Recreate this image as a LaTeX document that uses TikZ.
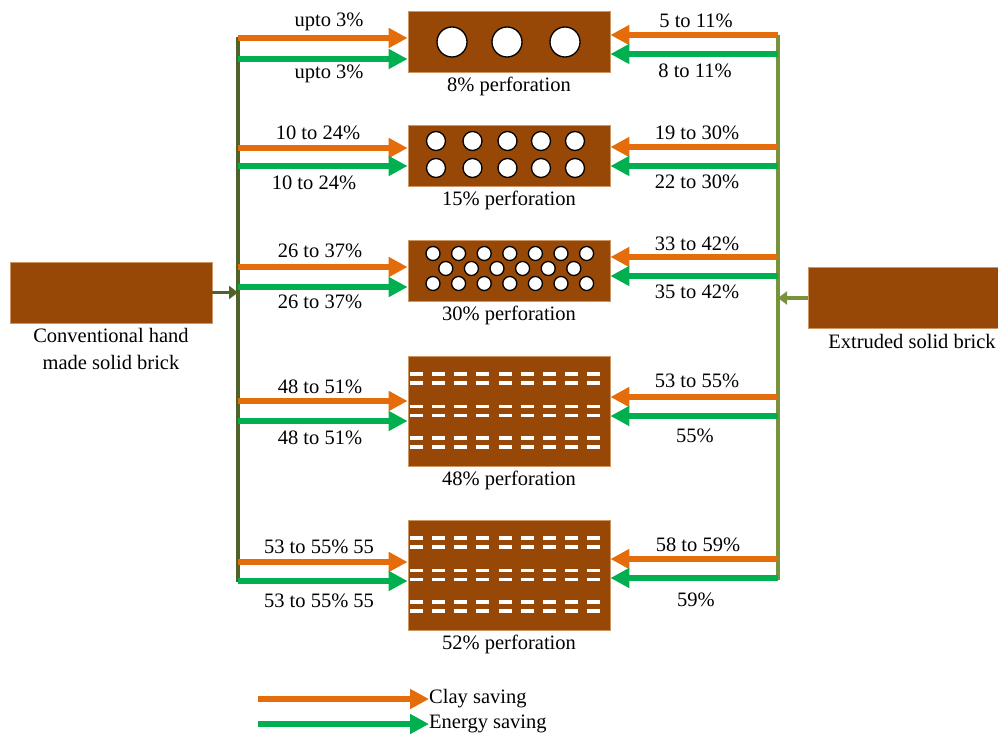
\documentclass[tikz,border=0pt]{standalone}
\usepackage{fontspec}
\setmainfont{Liberation Serif}
\usepackage{xcolor}
\usetikzlibrary{positioning,arrows.meta}
\definecolor{brickcolor}{RGB}{151,72,6}
\definecolor{brickedge}{RGB}{205,150,100}
\definecolor{claycolor}{RGB}{228,108,10}
\definecolor{energycolor}{RGB}{0,176,80}
\definecolor{leftbus}{RGB}{79,98,40}
\definecolor{rightbus}{RGB}{119,147,60}

\begin{document}
\begin{tikzpicture}[x=1pt,y=-1pt,
brick/.style={draw=brickedge,fill=brickcolor,line width=0.8pt,inner sep=0pt,minimum width=202pt,minimum height=61pt},
lbl/.style={font=\fontsize{20.5}{27}\selectfont,inner sep=0pt},
holeline/.style={draw=black,fill=white,line width=1.3pt},
clay/.style={claycolor,line width=5.5pt,-{Triangle[length=19pt,width=19pt]}},
energy/.style={energycolor,line width=5.5pt,-{Triangle[length=19pt,width=19pt]}},
bus/.style={line width=4pt},
feed/.style={line width=3.5pt,-{Triangle[length=9pt,width=13pt]}},node distance=5pt]
\useasboundingbox (0,0) rectangle (998,735);
% solid bricks and the two buses
\node[brick] (lb) at (111,292.5) {};
\node[lbl,align=center,below=of lb] (lbt) {Conventional hand\\made solid brick};
\node[brick] (rb) at (909,298) {};
\node[lbl,below=of rb,xshift=3pt] (rbt) {Extruded solid brick};
\coordinate (ltop) at (238,37); \coordinate (lbot) at (238,582);
\coordinate (rtop) at (778,35); \coordinate (rbot) at (778,580);
\draw[bus,leftbus] (ltop)--(lbot); \draw[bus,rightbus] (rtop)--(rbot);
\draw[feed,leftbus] (lb.east)--(lb.east -| ltop);
\draw[feed,rightbus] (rb.west)--(rb.west -| rtop);
% perforated bricks
\node[brick] (b1) at (509,41.5) {};
\node[brick] (b2) at (509,155.5) {};
\node[brick] (b3) at (509,270.5) {};
\node[brick,minimum height=110pt] (b4) at (509,411) {};
\node[brick,minimum height=110pt] (b5) at (509,575) {};
\node[lbl,below=4pt of b1] (b1t) {8\% perforation};
\node[lbl,below=4pt of b2] (b2t) {15\% perforation};
\node[lbl,below=4pt of b3] (b3t) {30\% perforation};
\node[lbl,below=4pt of b4] (b4t) {48\% perforation};
\node[lbl,below=4pt of b5] (b5t) {52\% perforation};
\foreach \hx in {452,507,565} \draw[holeline] (\hx,42) circle (15pt);
\foreach \hx in {436,472.5,507.5,541,575} \foreach \hy in {141,168} \draw[holeline] (\hx,\hy) circle (9.5pt);
\foreach \i in {0,...,6} {\draw[holeline] (433+25.6*\i,253.5) circle (7pt); \draw[holeline] (433+25.6*\i,283.5) circle (7pt);}
\foreach \i in {0,...,5} \draw[holeline] (445.8+25.6*\i,268.5) circle (7pt);
\foreach \cy in {411,575} \foreach \i in {0,...,8} \foreach \dy in {-37,-28,-4.5,4.5,27,36}
  \fill[white] (409.8+22.2*\i,\cy+\dy-1.6) rectangle (422.8+22.2*\i,\cy+\dy+1.6);
% saving arrows
\foreach \n/\lo/\lg/\ro/\rg in {1/38/59/35/54,2/148/166/147/166,3/267/287/257/276,4/401/421/397/416,5/562/581/559/578}{
  \coordinate (lo\n) at (238,\lo); \coordinate (lg\n) at (238,\lg);
  \coordinate (ro\n) at (778,\ro); \coordinate (rg\n) at (778,\rg);
  \draw[clay] (lo\n)--(lo\n -| b\n.west); \draw[energy] (lg\n)--(lg\n -| b\n.west);
  \draw[clay] (ro\n)--(ro\n -| b\n.east); \draw[energy] (rg\n)--(rg\n -| b\n.east);
}
\node[lbl] (lc1) at (329,22) {upto 3\%};   \node[lbl] (le1) at (329,74) {upto 3\%};
\node[lbl] (lc2) at (318,133) {10 to 24\%}; \node[lbl] (le2) at (314,183) {10 to 24\%};
\node[lbl] (lc3) at (320,251) {26 to 37\%}; \node[lbl] (le3) at (320,302) {26 to 37\%};
\node[lbl] (lc4) at (320,387) {48 to 51\%}; \node[lbl] (le4) at (320,438) {48 to 51\%};
\node[lbl] (lc5) at (319,547) {53 to 55\% 55}; \node[lbl] (le5) at (319,601) {53 to 55\% 55};
\node[lbl] (rc1) at (696,21) {5 to 11\%};   \node[lbl] (re1) at (695,71) {8 to 11\%};
\node[lbl] (rc2) at (697,133) {19 to 30\%}; \node[lbl] (re2) at (697,182) {22 to 30\%};
\node[lbl] (rc3) at (697,244) {33 to 42\%}; \node[lbl] (re3) at (697,292) {35 to 42\%};
\node[lbl] (rc4) at (697,381) {53 to 55\%}; \node[lbl] (re4) at (695,436) {55\%};
\node[lbl] (rc5) at (698,545) {58 to 59\%}; \node[lbl] (re5) at (696,600) {59\%};
% legend
\coordinate (kc) at (258,699); \coordinate (ke) at (258,724);
\node[lbl,anchor=west] (kct) at (429,699) {Clay saving};
\node[lbl,anchor=west] (ket) at (429,724) {Energy saving};
\draw[clay] (kc)--(kct.west); \draw[energy] (ke)--(ket.west);
\end{tikzpicture}
\end{document}
